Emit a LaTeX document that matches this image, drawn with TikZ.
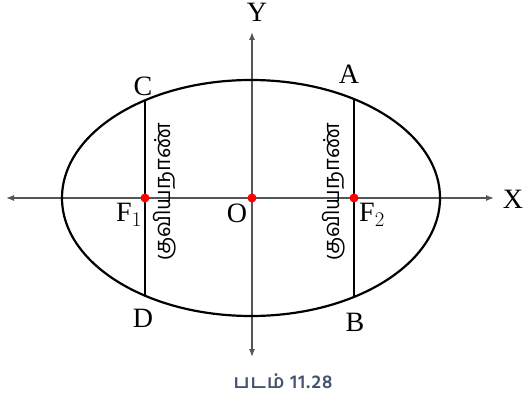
\documentclass[tikz,border=0pt]{standalone}
\usepackage{fontspec}
\setmainfont{Liberation Serif}
\newfontfamily\tamilfont[Script=Tamil]{Hind Madurai}
\newfontfamily\tamilcapfont[Script=Tamil,LetterSpace=6]{Hind Madurai}
\usetikzlibrary{arrows.meta}
\definecolor{axisgray}{HTML}{555555}
\definecolor{capblue}{HTML}{46546E}
\begin{document}
\begin{tikzpicture}[x=1pt,y=-1pt,
  axisline/.style={draw=axisgray,line width=1.4pt,-{Latex[length=8pt,width=6pt]}},
  curveline/.style={draw=black,line width=2.2pt},
  chordline/.style={draw=black,line width=2.2pt},
  focdot/.style={circle,fill=red,inner sep=0pt,minimum size=9pt},
  lbl/.style={font=\fontsize{28}{30}\selectfont,inner sep=0pt},
  tam/.style={font=\tamilfont\fontsize{22}{24}\selectfont,rotate=90,inner sep=0pt},
  captext/.style={font=\tamilcapfont\bfseries\fontsize{19}{21}\selectfont,text=capblue,inner sep=0pt}]
\useasboundingbox (0,0) rectangle (523,396);
% axes
\coordinate (xl) at (6,198);
\coordinate (xr) at (494,198);
\coordinate (yt) at (252,32);
\coordinate (yb) at (252,357);
\draw[axisline] (252,198) -- (xl);
\draw[axisline] (252,198) -- (xr);
\draw[axisline] (252,198) -- (yt);
\draw[axisline] (252,198) -- (yb);
% ellipse
\draw[curveline] (251,198) ellipse [x radius=189, y radius=118];
% chords
\coordinate (C) at (145,100);
\coordinate (D) at (145,296);
\coordinate (A) at (354,100);
\coordinate (B) at (354,296);
\draw[chordline] (C) -- (D);
\draw[chordline] (A) -- (B);
% dots
\node[focdot] (f1) at (145,198) {};
\node[focdot] (o) at (252,198) {};
\node[focdot] (f2) at (354,198) {};
% labels
\node[lbl] (lC) at (143,86) {C};
\node[lbl] (lA) at (349,74) {A};
\node[lbl] (lD) at (143,318) {D};
\node[lbl] (lB) at (355,322) {B};
\node[lbl] (lF1) at (129,215) {F$_1$};
\node[lbl] (lF2) at (372,215) {F$_2$};
\node[lbl] (lO) at (237,213) {O};
\node[lbl] (lX) at (513,199) {X};
\node[lbl] (lY) at (257,12) {Y};
% latus rectum text
\node[tam] (t1) at (165,192) {குவியநாண்};
\node[tam] (t2) at (334,192) {குவியநாண்};
% caption
\node[captext] (caption) at (283,381) {படம் 11.28};
\end{tikzpicture}
\end{document}
